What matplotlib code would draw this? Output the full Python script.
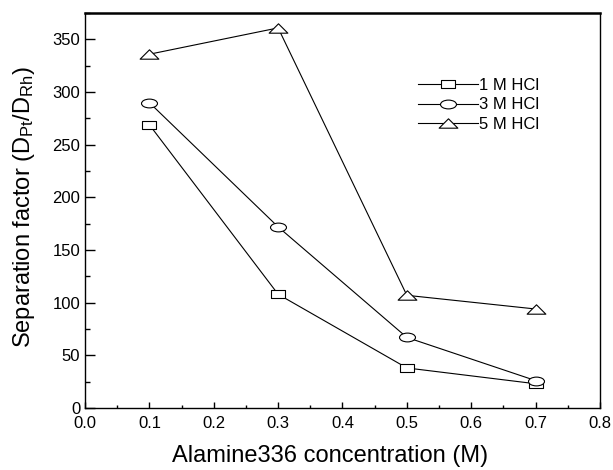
import numpy as np
import matplotlib
matplotlib.use('Agg')
import matplotlib.pyplot as plt
from matplotlib.path import Path
from matplotlib.ticker import MultipleLocator, FormatStrFormatter

plt.rcParams['font.family'] = ['Liberation Sans', 'DejaVu Sans']
plt.rcParams['mathtext.default'] = 'regular'

# Datos
concentracion = [0.1, 0.3, 0.5, 0.7]
hcl_1M = [269, 108, 38, 23]
hcl_3M = [290, 172, 67, 26]
hcl_5M = [336, 361, 107, 94]
etiquetas = ['1 M HCl', '3 M HCl', '5 M HCl']

# Marcadores algo achatados como en el original
cuadro = Path([(-1, -0.5), (1, -0.5), (1, 0.5), (-1, 0.5), (-1, -0.5)],
              [Path.MOVETO, Path.LINETO, Path.LINETO, Path.LINETO, Path.CLOSEPOLY])
circ = Path.unit_circle()
elipse = Path(circ.vertices * np.array([1.0, 0.55]), circ.codes)
triang = Path([(-1, -0.5), (0, 0.5), (1, -0.5), (-1, -0.5)],
              [Path.MOVETO, Path.LINETO, Path.LINETO, Path.CLOSEPOLY])

fig = plt.figure(figsize=(6.13, 4.70), dpi=100)
ax = fig.add_axes([0.1387, 0.132, 0.840, 0.840])

estilo = dict(color='black', lw=0.8, mfc='white', mec='black', mew=0.8)
ax.plot(concentracion, hcl_1M, marker=cuadro, ms=10.5, label=etiquetas[0], **estilo)
ax.plot(concentracion, hcl_3M, marker=elipse, ms=11.5, label=etiquetas[1], **estilo)
ax.plot(concentracion, hcl_5M, marker=triang, ms=13.5, label=etiquetas[2], **estilo)

ax.set_xlim(0.0, 0.8)
ax.set_ylim(0, 375)
ax.xaxis.set_major_locator(MultipleLocator(0.1))
ax.xaxis.set_minor_locator(MultipleLocator(0.05))
ax.xaxis.set_major_formatter(FormatStrFormatter('%.1f'))
ax.yaxis.set_major_locator(MultipleLocator(50))
ax.yaxis.set_minor_locator(MultipleLocator(25))
ax.tick_params(axis='both', which='both', direction='in', labelsize=12)
ax.tick_params(axis='x', which='major', length=4.5, width=1, pad=6)
ax.tick_params(axis='x', which='minor', length=2.5, width=1)
ax.tick_params(axis='y', which='major', length=7, width=1)
ax.tick_params(axis='y', which='minor', length=3.5, width=1)

for lado in ['left', 'right', 'bottom']:
    ax.spines[lado].set_linewidth(1.0)
ax.spines['top'].set_linewidth(1.8)

ax.set_xlabel('Alamine336 concentration (M)', fontsize=17)
ax.set_ylabel('Separation factor (D$_{Pt}$/D$_{Rh}$)', fontsize=17)
ax.xaxis.set_label_coords(0.476, -0.095)
ax.yaxis.set_label_coords(-0.093, 0.509)

ax.legend(loc='upper left', bbox_to_anchor=(0.647, 0.835), frameon=False,
          fontsize=12, handlelength=3.6, handletextpad=0.05, labelspacing=0.25,
          borderpad=0, borderaxespad=0)

plt.savefig('out.png', dpi=100)
